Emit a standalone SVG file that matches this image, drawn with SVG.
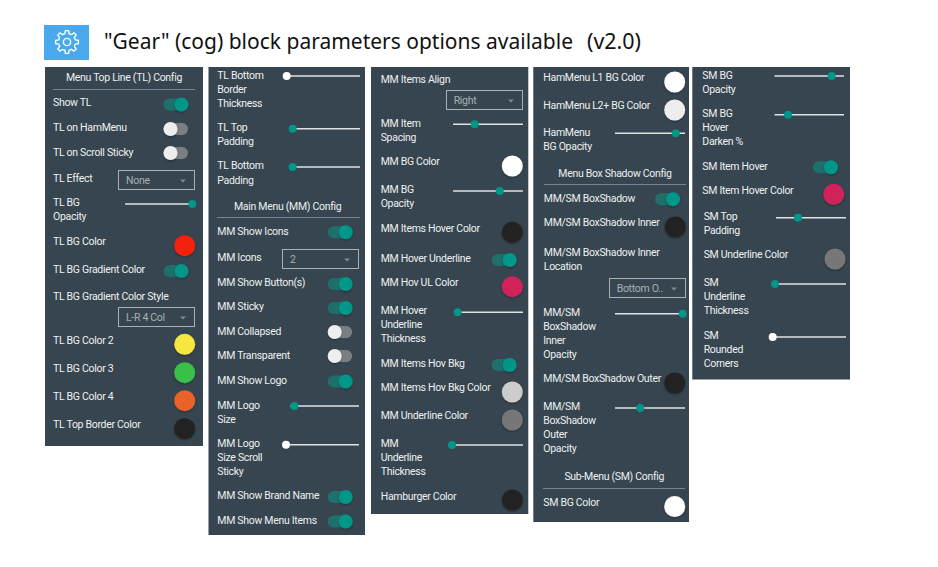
<svg xmlns="http://www.w3.org/2000/svg" xmlns:xlink="http://www.w3.org/1999/xlink" width="938" height="567" viewBox="0 0 938 567">
<style>
text{font-family:Roboto,"Liberation Sans",sans-serif;font-size:10.5px;font-weight:400;letter-spacing:-.3px;fill:#eef0f0;dominant-baseline:central}
.h{text-anchor:middle}
.v{fill:#a9b0b3}
.title{font-family:"Noto Sans","Liberation Sans",sans-serif;font-size:21px;font-weight:400;letter-spacing:0;fill:#111;dominant-baseline:auto}
.p{fill:#36454f}
.d{stroke:#76838a;stroke-width:1}
.s{stroke:#dfe2e2;stroke-width:1.5}
.sel{fill:none;stroke:#a9b0b3;stroke-width:1}
.sw{filter:url(#sh)}
.g{fill:none;stroke:#fff;stroke-width:1.4}
</style>
<defs>
<filter id="sh" x="-30%" y="-30%" width="160%" height="170%"><feDropShadow dx="0" dy="1" stdDeviation="1" flood-color="#000" flood-opacity=".35"/></filter>
<g id="on"><rect x="0" y="-6" width="24.5" height="12" rx="6" fill="#1f6f6b"/><circle cx="18" cy="0" r="7" fill="#009688" filter="url(#sh)"/></g>
<g id="off"><rect x="0" y="-6" width="24.5" height="12" rx="6" fill="#7b7f82"/><circle cx="7" cy="0" r="7" fill="#eeeeee" filter="url(#sh)"/></g>
<path id="arrow" d="M-3-1.4H3L0 1.4Z" fill="#7e8a90"/>
<circle id="kt" r="4" fill="#009688"/>
<circle id="kw" r="4" fill="#fff"/>
<path id="tooth" d="M-2.06-8.25L-1.6-11.39H1.6L2.06-8.25A8.5 8.5 0 0 1 4.38-7.29"/>
</defs>

<g id="header">
<rect x="44" y="25" width="45" height="35" fill="#4aa8ec"/>
<g class="g" transform="translate(67 42)">
<circle r="3.6"/>
<use xlink:href="#tooth"/><use xlink:href="#tooth" transform="rotate(45)"/><use xlink:href="#tooth" transform="rotate(90)"/><use xlink:href="#tooth" transform="rotate(135)"/><use xlink:href="#tooth" transform="rotate(180)"/><use xlink:href="#tooth" transform="rotate(225)"/><use xlink:href="#tooth" transform="rotate(270)"/><use xlink:href="#tooth" transform="rotate(315)"/>
</g>
<text class="title" x="104" y="49" textLength="469" lengthAdjust="spacingAndGlyphs">"Gear" (cog) block parameters options available</text>
<text class="title" x="587" y="49" textLength="54" lengthAdjust="spacingAndGlyphs">(v2.0)</text>
</g>

<g id="panel-1">
<rect class="p" x="45" y="67" width="158" height="379"/>
<text class="h" x="124" y="77.7">Menu Top Line (TL) Config</text>
<line class="d" x1="53" y1="89.5" x2="195" y2="89.5"/>
<text x="53" y="102.7">Show TL</text><use xlink:href="#on" x="163.5" y="104.5"/>
<text x="53" y="127.3">TL on HamMenu</text><use xlink:href="#off" x="163.5" y="129"/>
<text x="53" y="152">TL on Scroll Sticky</text><use xlink:href="#off" x="163.5" y="153"/>
<text x="53" y="178">TL Effect</text>
<rect class="sel" x="118.5" y="170.5" width="76" height="19"/><text class="v" x="126" y="180">None</text><use xlink:href="#arrow" x="183" y="181"/>
<text x="53" y="202.7">TL BG</text><text x="53" y="216.7">Opacity</text>
<line class="s" x1="125" y1="204" x2="192" y2="204"/><use xlink:href="#kt" x="192.3" y="204"/>
<text x="53" y="241">TL BG Color</text><circle class="sw" cx="184.7" cy="245.7" r="10.5" fill="#f4200f"/>
<text x="53" y="269.3">TL BG Gradient Color</text><use xlink:href="#on" x="163.5" y="271"/>
<text x="53" y="296">TL BG Gradient Color Style</text>
<rect class="sel" x="118.5" y="307.5" width="76" height="19"/><text class="v" x="126" y="317">L-R 4 Col</text><use xlink:href="#arrow" x="183" y="318"/>
<text x="53" y="340">TL BG Color 2</text><circle class="sw" cx="184.7" cy="344.3" r="10.5" fill="#f6e63c"/>
<text x="53" y="368">TL BG Color 3</text><circle class="sw" cx="184.7" cy="372.7" r="10.5" fill="#37c04a"/>
<text x="53" y="396">TL BG Color 4</text><circle class="sw" cx="184.7" cy="400.7" r="10.5" fill="#e8622a"/>
<text x="53" y="424">TL Top Border Color</text><circle class="sw" cx="184.7" cy="428.7" r="10.5" fill="#212121"/>
</g>

<g id="panel-2">
<rect class="p" x="208.5" y="67" width="156.5" height="468"/>
<text x="217.3" y="75">TL Bottom</text><text x="217.3" y="89">Border</text><text x="217.3" y="103">Thickness</text>
<line class="s" x1="287" y1="76" x2="360" y2="76"/><use xlink:href="#kw" x="286.7" y="76"/>
<text x="217.3" y="127">TL Top</text><text x="217.3" y="141">Padding</text>
<line class="s" x1="293" y1="128.7" x2="360" y2="128.7"/><use xlink:href="#kt" x="292.7" y="128.7"/>
<text x="217.3" y="165.7">TL Bottom</text><text x="217.3" y="180">Padding</text>
<line class="s" x1="293" y1="167" x2="360" y2="167"/><use xlink:href="#kt" x="292.7" y="167"/>
<text class="h" x="287.7" y="206">Main Menu (MM) Config</text>
<line class="d" x1="217" y1="217.5" x2="360" y2="217.5"/>
<text x="217.3" y="231">MM Show Icons</text><use xlink:href="#on" x="327.7" y="232.3"/>
<text x="217.3" y="257.7">MM Icons</text>
<rect class="sel" x="282.5" y="249.5" width="76" height="19"/><text class="v" x="290" y="259">2</text><use xlink:href="#arrow" x="347" y="260"/>
<text x="217.3" y="282.7">MM Show Button(s)</text><use xlink:href="#on" x="327.7" y="284"/>
<text x="217.3" y="306.7">MM Sticky</text><use xlink:href="#on" x="327.7" y="308"/>
<text x="217.3" y="331">MM Collapsed</text><use xlink:href="#off" x="327.7" y="332"/>
<text x="217.3" y="355.5">MM Transparent</text><use xlink:href="#off" x="327.7" y="356"/>
<text x="217.3" y="380">MM Show Logo</text><use xlink:href="#on" x="327.7" y="381.5"/>
<text x="217.3" y="405">MM Logo</text><text x="217.3" y="419">Size</text>
<line class="s" x1="290" y1="406" x2="359" y2="406"/><use xlink:href="#kt" x="294.3" y="406"/>
<text x="217.3" y="443">MM Logo</text><text x="217.3" y="457">Size Scroll</text><text x="217.3" y="471">Sticky</text>
<line class="s" x1="286" y1="444.7" x2="359" y2="444.7"/><use xlink:href="#kw" x="286" y="444.7"/>
<text x="217.3" y="495.7">MM Show Brand Name</text><use xlink:href="#on" x="327.7" y="497"/>
<text x="217.3" y="520">MM Show Menu Items</text><use xlink:href="#on" x="327.7" y="521.5"/>
</g>

<g id="panel-3">
<rect class="p" x="371" y="67" width="157.3" height="447"/>
<text x="380.7" y="79.3">MM Items Align</text>
<rect class="sel" x="446.5" y="90.5" width="76" height="19"/><text class="v" x="453.7" y="100">Right</text><use xlink:href="#arrow" x="511" y="101"/>
<text x="380.7" y="123.3">MM Item</text><text x="380.7" y="137.3">Spacing</text>
<line class="s" x1="453" y1="124.3" x2="523" y2="124.3"/><use xlink:href="#kt" x="474.7" y="124.3"/>
<text x="380.7" y="161.3">MM BG Color</text><circle class="sw" cx="512.3" cy="166" r="10.5" fill="#fff"/>
<text x="380.7" y="189.7">MM BG</text><text x="380.7" y="203.7">Opacity</text>
<line class="s" x1="453" y1="191" x2="523" y2="191"/><use xlink:href="#kt" x="499.7" y="191"/>
<text x="380.7" y="228">MM Items Hover Color</text><circle class="sw" cx="512.3" cy="232.3" r="10.5" fill="#212121"/>
<text x="380.7" y="258">MM Hover Underline</text><use xlink:href="#on" x="491.7" y="260"/>
<text x="380.7" y="282.7">MM Hov UL Color</text><circle class="sw" cx="512.3" cy="286.7" r="10.5" fill="#d1245a"/>
<text x="380.7" y="310.7">MM Hover</text><text x="380.7" y="324.7">Underline</text><text x="380.7" y="338.7">Thickness</text>
<line class="s" x1="454" y1="312.3" x2="523" y2="312.3"/><use xlink:href="#kt" x="457.7" y="312.3"/>
<text x="380.7" y="363.3">MM Items Hov Bkg</text><use xlink:href="#on" x="491.7" y="365"/>
<text x="380.7" y="387.7">MM Items Hov Bkg Color</text><circle class="sw" cx="512.3" cy="392" r="10.5" fill="#cccccc"/>
<text x="380.7" y="415.7">MM Underline Color</text><circle class="sw" cx="512.3" cy="420" r="10.5" fill="#777777"/>
<text x="380.7" y="443.7">MM</text><text x="380.7" y="457.7">Underline</text><text x="380.7" y="471.7">Thickness</text>
<line class="s" x1="452" y1="445" x2="523" y2="445"/><use xlink:href="#kt" x="452" y="445"/>
<text x="380.7" y="496.3">Hamburger Color</text><circle class="sw" cx="512.3" cy="500" r="10.5" fill="#212121"/>
</g>

<g id="panel-4">
<rect class="p" x="533.3" y="67" width="155.7" height="455"/>
<text x="543.3" y="77.7">HamMenu L1 BG Color</text><circle class="sw" cx="674.7" cy="82" r="10.5" fill="#fff"/>
<text x="543.3" y="105.7">HamMenu L2+ BG Color</text><circle class="sw" cx="674.7" cy="110" r="10.5" fill="#eeeeee"/>
<text x="543.3" y="132.3">HamMenu</text><text x="543.3" y="146.3">BG Opacity</text>
<line class="s" x1="615" y1="133.3" x2="685" y2="133.3"/><use xlink:href="#kt" x="675.7" y="133.3"/>
<text class="h" x="615" y="173">Menu Box Shadow Config</text>
<line class="d" x1="544" y1="184.5" x2="686" y2="184.5"/>
<text x="543.8" y="198">MM/SM BoxShadow</text><use xlink:href="#on" x="655" y="199.3"/>
<text x="543.8" y="222.3">MM/SM BoxShadow Inner</text><circle class="sw" cx="675.3" cy="227" r="10.5" fill="#212121"/>
<text x="543.8" y="252.7">MM/SM BoxShadow Inner</text><text x="543.8" y="266.7">Location</text>
<rect class="sel" x="609.5" y="278.5" width="76" height="19"/><text class="v" x="616.7" y="288">Bottom O..</text><use xlink:href="#arrow" x="674" y="289"/>
<text x="543.3" y="312">MM/SM</text><text x="543.3" y="326">BoxShadow</text><text x="543.3" y="340">Inner</text><text x="543.3" y="354">Opacity</text>
<line class="s" x1="615" y1="313.7" x2="686" y2="313.7"/><use xlink:href="#kt" x="682.7" y="313.7"/>
<text x="543.3" y="378.7">MM/SM BoxShadow Outer</text><circle class="sw" cx="674.7" cy="383" r="10.5" fill="#212121"/>
<text x="543.3" y="406.7">MM/SM</text><text x="543.3" y="420.7">BoxShadow</text><text x="543.3" y="434.7">Outer</text><text x="543.3" y="448.7">Opacity</text>
<line class="s" x1="615" y1="408" x2="685" y2="408"/><use xlink:href="#kt" x="640.3" y="408"/>
<text class="h" x="614.3" y="476.7">Sub-Menu (SM) Config</text>
<line class="d" x1="543" y1="488.5" x2="685" y2="488.5"/>
<text x="543.3" y="502">SM BG Color</text><circle class="sw" cx="674.7" cy="506.5" r="10.5" fill="#fff"/>
</g>

<g id="panel-5">
<rect class="p" x="692.3" y="67" width="157.7" height="312.5"/>
<text x="702.3" y="75">SM BG</text><text x="702.3" y="89">Opacity</text>
<line class="s" x1="774.5" y1="76" x2="844" y2="76"/><use xlink:href="#kt" x="831.7" y="76"/>
<text x="702.3" y="113.3">SM BG</text><text x="702.3" y="127.3">Hover</text><text x="702.3" y="141.3">Darken %</text>
<line class="s" x1="774.5" y1="114.7" x2="844" y2="114.7"/><use xlink:href="#kt" x="788" y="114.7"/>
<text x="702.3" y="166">SM Item Hover</text><use xlink:href="#on" x="813" y="167.3"/>
<text x="702.3" y="190">SM Item Hover Color</text><circle class="sw" cx="833.7" cy="194.3" r="10.5" fill="#d1245a"/>
<text x="703.7" y="216.3">SM Top</text><text x="703.7" y="230.3">Padding</text>
<line class="s" x1="776" y1="217.7" x2="846" y2="217.7"/><use xlink:href="#kt" x="798" y="217.7"/>
<text x="703.7" y="254.7">SM Underline Color</text><circle class="sw" cx="835" cy="259" r="10.5" fill="#777777"/>
<text x="703.7" y="282.7">SM</text><text x="703.7" y="296.7">Underline</text><text x="703.7" y="310.7">Thickness</text>
<line class="s" x1="775" y1="284" x2="846" y2="284"/><use xlink:href="#kt" x="775" y="284"/>
<text x="703.7" y="335">SM</text><text x="703.7" y="349">Rounded</text><text x="703.7" y="363">Corners</text>
<line class="s" x1="773" y1="337" x2="846" y2="337"/><use xlink:href="#kw" x="772.7" y="337"/>
</g>
</svg>
